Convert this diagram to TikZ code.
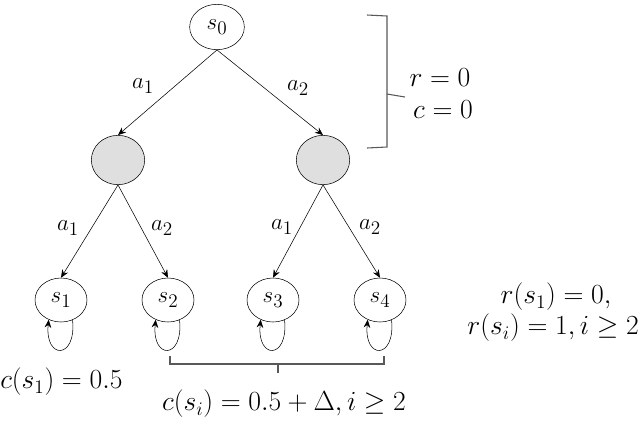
\documentclass[tikz,border=0pt]{standalone}
\usetikzlibrary{shapes.geometric,arrows.meta,decorations.pathreplacing}
\begin{document}
\begin{tikzpicture}[x=0.75pt,y=-0.75pt,
  st/.style={draw,ellipse,minimum width=39pt,minimum height=33pt,inner sep=0pt,font=\fontsize{19}{22}\selectfont},
  gr/.style={draw,ellipse,fill=gray!25,minimum width=40pt,minimum height=37pt},
  ar/.style={-{Stealth[length=6pt,width=5pt]}},
  lp/.style={-{Stealth[length=6pt,width=5pt]}},
  lb/.style={font=\fontsize{19}{22}\selectfont,inner sep=0pt},
  tx/.style={font=\fontsize{20}{23}\selectfont,inner sep=0pt},
  br/.style={draw=gray!70!black,line width=0.8pt}]
\useasboundingbox (0,0) rectangle (640,433);
\node[st,minimum width=41pt,minimum height=34pt] (s0) at (217,27) {$s_0$};
\node[gr] (g1) at (118,160) {};
\node[gr] (g2) at (323,160) {};
\node[st] (s1) at (61,300) {$s_1$};
\node[st] (s2) at (168,300) {$s_2$};
\node[st] (s3) at (273,300) {$s_3$};
\node[st] (s4) at (380,300) {$s_4$};
\draw[ar] (s0.south) -- (g1.north);
\draw[ar] (s0.south) -- (g2.north);
\draw[ar] (g1.south) -- (s1.north);
\draw[ar] (g1.south) -- (s2.north);
\draw[ar] (g2.south) -- (s3.north);
\draw[ar] (g2.south) -- (s4.north);
\foreach \n in {s1,s2,s3,s4}{
  \draw[lp] (\n.-60) .. controls +(4,40) and +(-4,40) .. (\n.-122);}
\node[lb] (l1) at (143,86) {$a_1$};
\node[lb] (l2) at (298,88) {$a_2$};
\node[lb] (l3) at (68,228) {$a_1$};
\node[lb] (l4) at (162,228) {$a_2$};
\node[lb] (l5) at (282,227) {$a_1$};
\node[lb] (l6) at (370,227) {$a_2$};
\coordinate (b1) at (367,15);
\coordinate (b2) at (367,148);
\coordinate (bt) at (405,97);
\draw[br] (b1) -- (387,16) -- (387,94) -- (bt) (387,94) -- (387,147) -- (b2);
\node[tx] (r0) at (440,78) {$r=0$};
\node[tx] (c0) at (443,110) {$c=0$};
\node[tx] (r1) at (556,297) {$r(s_1)=0,$};
\node[tx,anchor=east] (r2) at (639,328) {$r(s_i)=1, i\geq 2$};
\node[tx,anchor=west] (c1) at (0,382) {$c(s_1)=0.5$};
\coordinate (b3) at (170,356);
\coordinate (b4) at (384,356);
\coordinate (bb) at (278,373);
\draw[br] (b3) -- (170,364) -- (384,364) -- (b4) (278,364) -- (bb);
\node[tx] (c2) at (284,404) {$c(s_i)=0.5+\Delta, i\geq 2$};
\end{tikzpicture}
\end{document}
